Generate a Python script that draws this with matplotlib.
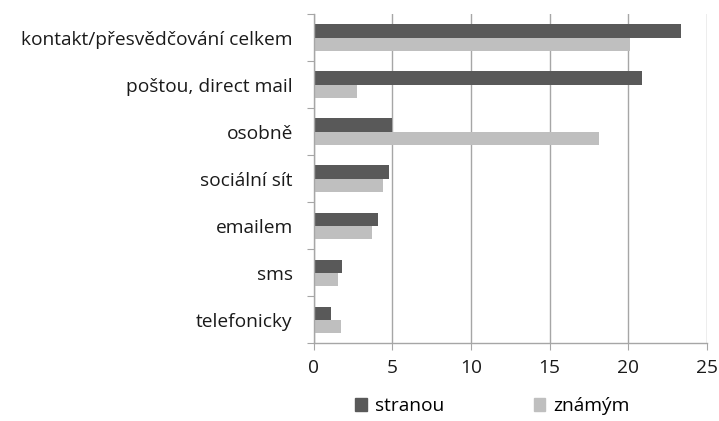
import numpy as np
import matplotlib.pyplot as plt
from matplotlib.patches import Patch

plt.rcParams['font.family'] = ['Open Sans', 'DejaVu Sans']

# categories, top to bottom as in the chart
categories = ['kontakt/přesvědčování celkem', 'poštou, direct mail', 'osobně',
              'sociální sít', 'emailem', 'sms', 'telefonicky']
stranou = [23.35, 20.85, 5.0, 4.78, 4.1, 1.78, 1.1]
znamym = [20.1, 2.77, 18.17, 4.4, 3.72, 1.52, 1.71]
xticks = [0, 5, 10, 15, 20, 25]

dark = '#595959'
light = '#bfbfbf'
gridc = '#a6a6a6'
fs = 13.8

fig = plt.figure(figsize=(7.19, 4.21), dpi=100)
ax = fig.add_axes([0.4363, 0.1846, 0.983 - 0.4363, 0.9667 - 0.1846])

n = len(categories)
y = np.arange(n)
h = 0.28
ax.barh(y - h / 2, stranou, height=h, color=dark, zorder=3)
ax.barh(y + h / 2, znamym, height=h, color=light, zorder=3)

ax.set_ylim(n - 0.5, -0.5)
ax.set_xlim(0, 25)
ax.set_xticks(xticks)
ax.set_xticklabels([str(t) for t in xticks], fontsize=fs, color='#1a1a1a')

# category labels at centres, tick marks at boundaries
ax.set_yticks(np.arange(-0.5, n, 1.0))
ax.set_yticklabels([])
ax.set_yticks(y, minor=True)
ax.set_yticklabels(categories, minor=True, fontsize=fs, color='#1a1a1a')
ax.tick_params(axis='y', which='minor', length=0, pad=15)
ax.tick_params(axis='y', which='major', length=5, color=gridc, direction='out')
ax.tick_params(axis='x', length=5, color=gridc, direction='out', pad=6)

ax.grid(axis='x', color=gridc, linewidth=1.0, zorder=0)
for s in ['top', 'right']:
    ax.spines[s].set_visible(False)
for s in ['left', 'bottom']:
    ax.spines[s].set_color(gridc)
    ax.spines[s].set_linewidth(1.0)
ax.spines['left'].set_zorder(4)

handles = [Patch(color=dark, label='stranou'), Patch(color=light, label='známým')]
fig.legend(handles=handles, loc='center', bbox_to_anchor=(0.685, 0.035), ncol=2,
           frameon=False, fontsize=fs, handlelength=0.6, handleheight=0.6,
           handletextpad=0.4, columnspacing=4.7)

fig.savefig('out.png', dpi=100)
